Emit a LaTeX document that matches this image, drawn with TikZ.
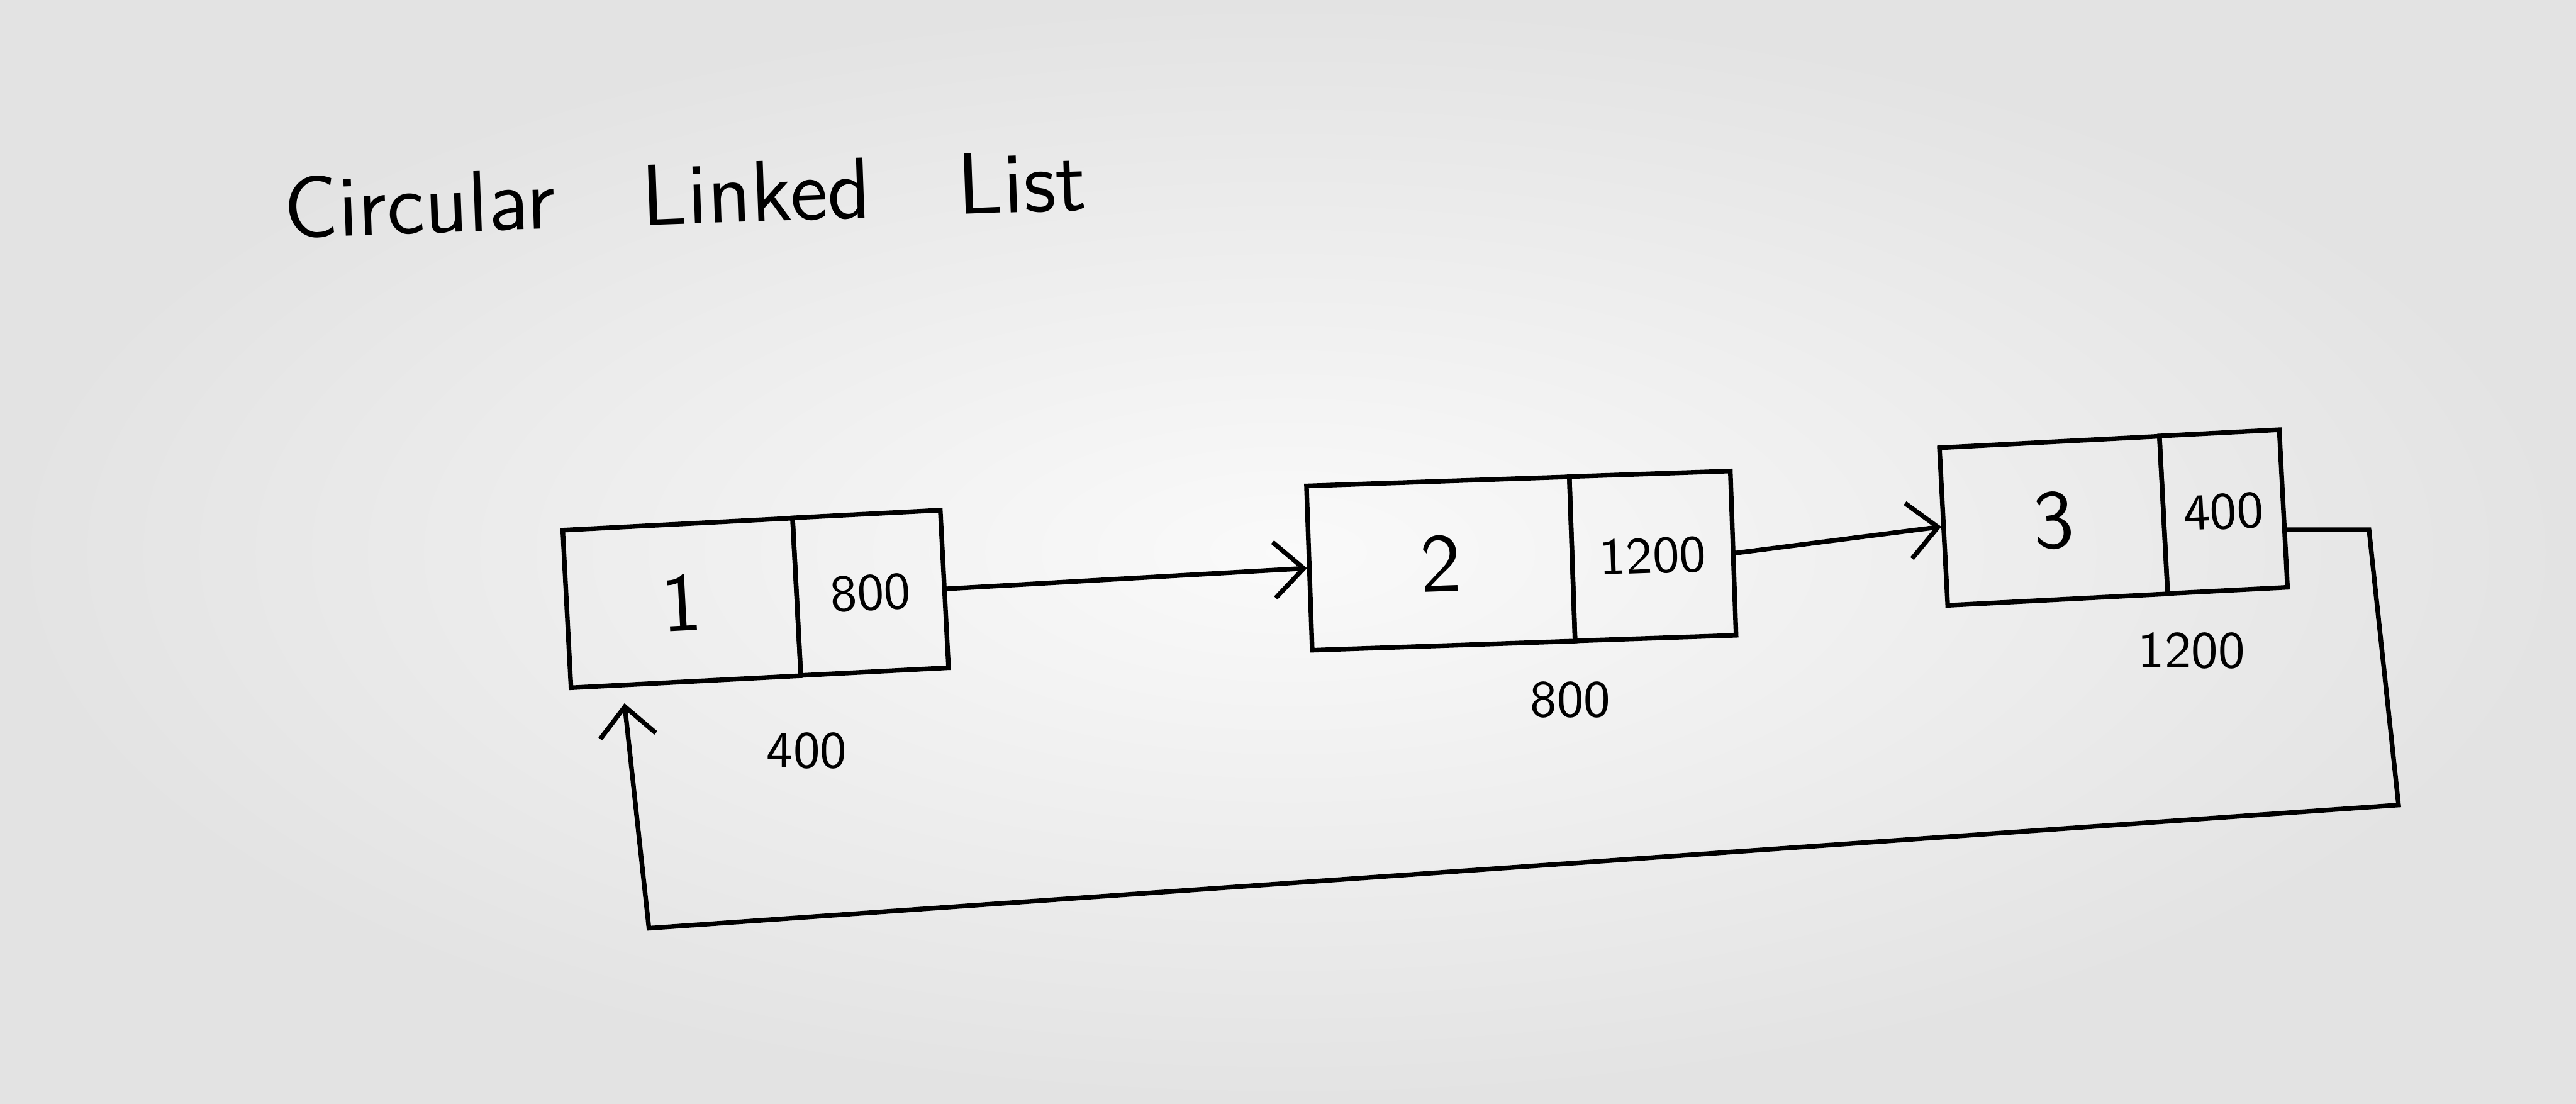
\documentclass[tikz,border=0pt]{standalone}
\usetikzlibrary{positioning,arrows.meta}
\begin{document}
\begin{tikzpicture}[x = 0.01cm, y = -0.01cm, line width = 0.8pt,
				databox/.style = {draw, rotate = 3, minimum height = 
				0.96cm, font = \sffamily\Large},
				ptrbox/.style = {draw, rotate = 3, minimum height = 
				0.96cm, font = \sffamily\small},
				addr/.style = {font = \sffamily\small},
				link/.style = {-{Straight Barb[length = 1.8mm, width = 3.4mm]}}]

				\useasboundingbox (0,0) rectangle (1568,672);
				\shade [inner color = gray!4, outer color = gray!22] (0,0) rectangle (1568,672);

				\node [font = \sffamily\fontsize{15}{18}\selectfont, rotate = 2] (title) at (417,118)
				{Circular\quad Linked\quad List};

				\node [databox, minimum width = 1.40cm] (d_1) at (415,367) {1};
				\node [ptrbox, minimum width = 0.90cm, right = -0.8pt of d_1] (p_1) {800};
				\node [databox, minimum width = 1.60cm, minimum height = 1.0cm, rotate = -1] (d_2) at (877,343) {2};
				\node [ptrbox, minimum width = 0.98cm, minimum height = 1.0cm, rotate = -1, right = -0.8pt of d_2] (p_2) {1200};
				\node [databox, minimum width = 1.34cm] (d_3) at (1250,317) {3};
				\node [ptrbox, minimum width = 0.73cm, right = -0.8pt of d_3] (p_3) {400};

				\node [addr] (a_1) at (491,457) {400};
				\node [addr] (a_2) at (956,426) {800};
				\node [addr] (a_3) at (1334,396) {1200};

				\draw [link] (p_1.east) -- (d_2.west);
				\draw [link] (p_2.east) -- (d_3.west);

				\coordinate (c_0) at ([yshift = -0.13cm]p_3.east);
				\coordinate (c_1) at (1442,325);
				\coordinate (c_2) at (1460,490);
				\coordinate (c_3) at (395,565);
				\draw [link, shorten > = 0.08cm] (c_0) -- (c_0 -| c_1) -- (c_2) -- (c_3)
				-- ([xshift = 0.33cm]d_1.south west);
\end{tikzpicture}
\end{document}
